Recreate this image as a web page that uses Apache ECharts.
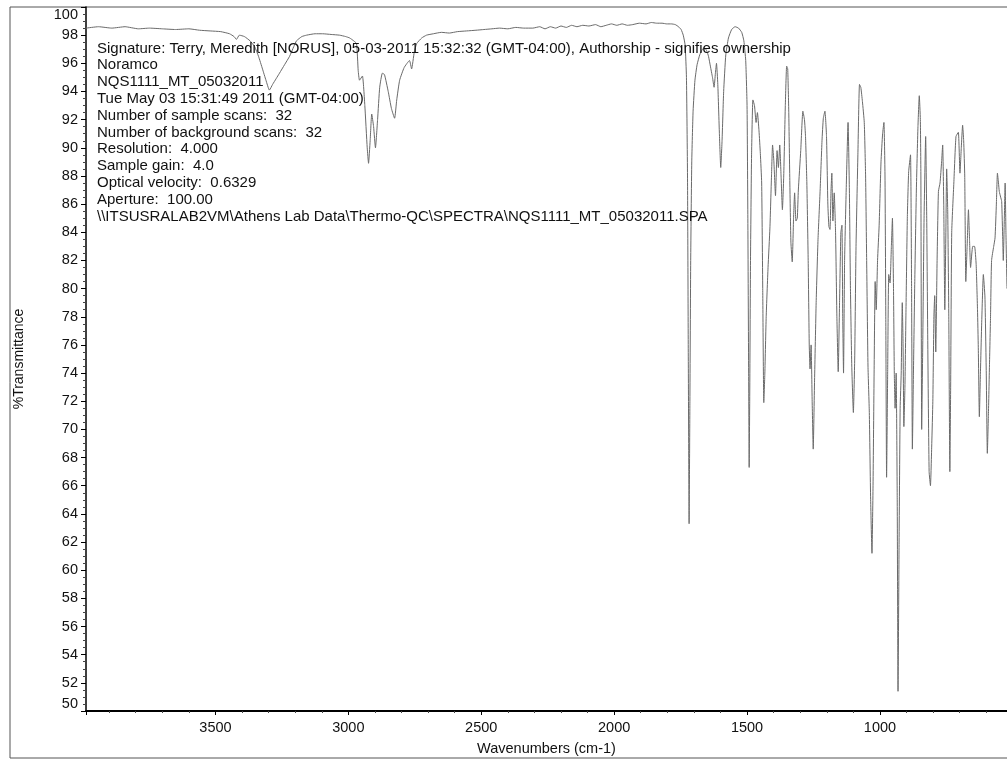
<!DOCTYPE html>
<html>
<head>
<meta charset="utf-8">
<script src="https://cdn.jsdelivr.net/npm/echarts@6/dist/echarts.min.js"></script>
<style>
html,body{margin:0;padding:0;background:#fff;}
#chart{width:1007px;height:763px;}
</style>
</head>
<body>
<div id="chart"></div>
<script>
// Wavenumbers (cm-1), descending
const wavenumbers = [
3987,3940,3890,3840,3790,3748,3700,3650,3600,3560,3520,3480,3447,3430,3421,3410,3391,3370,3353,3338,
3323,3310,3297,3285,3272,3259,3240,3221,3205,3195,3175,3157,3125,3097,3065,3033,3010,2995,2980,2969,
2963,2958,2947,2938,2929,2924,2918,2912,2905,2898,2890,2882,2872,2864,2850,2838,2826,2818,2807,2790,
2770,2762,2752,2743,2724,2706,2680,2650,2620,2590,2555,2520,2490,2460,2431,2400,2370,2340,2306,2280,
2260,2240,2220,2200,2180,2160,2140,2118,2095,2070,2050,2030,2010,1990,1970,1950,1930,1905,1880,1860,
1840,1820,1802,1785,1770,1758,1748,1740,1733,1728,1724,1721,1718,1715,1712,1708,1703,1696,1688,1678,
1668,1660,1652,1645,1638,1630,1624,1619,1615,1610,1604,1599,1594,1588,1580,1570,1558,1545,1532,1520,
1512,1505,1500,1497,1494,1492,1490,1487,1483,1478,1472,1466,1461,1455,1450,1445,1441,1437,1433,1428,
1421,1414,1408,1404,1399,1393,1387,1382,1377,1372,1367,1362,1356,1351,1347,1343,1339,1335,1330,1325,
1321,1316,1311,1307,1298,1290,1284,1280,1275,1270,1266,1263,1259,1255,1251,1246,1240,1233,1225,1218,
1213,1207,1201,1196,1192,1188,1184,1181,1177,1172,1167,1162,1157,1152,1147,1143,1140,1137,1133,1127,
1120,1115,1111,1106,1100,1095,1090,1083,1077,1072,1066,1059,1054,1050,1045,1040,1035,1030,1026,1022,
1018,1014,1009,1003,996,990,985,981,978,975,971,967,962,957,953,949,946,943,939,935,
932,928,924,920,916,913,910,906,902,897,892,885,881,878,874,869,863,857,852,848,
846,843,839,834,828,824,820,815,810,805,801,797,794,790,785,780,774,768,764,760,
756,752,749,745,741,737,734,730,722,714,705,699,694,689,685,681,677,672,667,663,
659,651,644,638,633,630,626,622,617,611,605,600,596,592,588,584,580,572,567,562,
558,554,551,546,542,538,536,532,529,526,522
];
// %Transmittance at each wavenumber
const transmittance = [
98.5,98.6,98.5,98.6,98.45,98.5,98.45,98.4,98.45,98.35,98.3,98.25,98.1,97.9,97.7,98.0,97.9,97.6,97.2,96.5,
95.6,94.8,94.1,94.5,94.9,95.3,95.9,96.5,97.2,97.6,97.9,98.0,98.1,98.1,98.05,98.0,97.9,97.8,97.6,97.4,
95.5,94.8,95.1,93.0,90.0,88.9,90.5,92.4,91.5,90.0,92.0,94.3,95.3,95.2,94.0,92.8,92.1,93.4,94.8,95.7,
96.2,95.6,96.8,97.4,97.8,98.0,98.1,98.2,98.15,98.25,98.3,98.35,98.4,98.45,98.5,98.45,98.55,98.5,98.5,98.6,
98.45,98.6,98.5,98.65,98.55,98.7,98.6,98.7,98.65,98.75,98.6,98.7,98.8,98.7,98.8,98.7,98.75,98.85,98.8,98.9,
98.85,98.85,98.8,98.8,98.75,98.6,98.4,98.0,97.3,95.0,88.0,75.0,63.3,72.0,82.0,89.0,92.6,94.8,95.9,96.6,
97.0,97.1,96.9,96.5,95.8,95.0,94.3,95.3,96.0,94.5,91.0,88.6,90.5,94.0,96.6,97.8,98.4,98.6,98.5,98.2,
97.6,96.2,93.0,85.0,74.0,67.3,72.0,82.0,89.5,93.4,93.0,91.8,92.5,91.2,89.6,87.5,80.0,71.9,74.0,78.0,
81.5,84.3,88.0,90.2,89.0,86.6,89.8,88.6,90.2,88.0,85.6,88.0,93.0,95.8,95.6,92.5,87.5,83.3,81.9,85.0,
86.8,84.8,85.0,87.0,89.8,92.6,92.0,90.8,87.5,82.0,76.0,74.3,76.0,72.0,68.6,73.5,79.0,83.5,87.0,90.5,
92.1,92.6,90.8,86.0,84.4,84.2,87.0,88.2,84.8,86.8,84.0,78.0,74.1,79.0,84.0,84.5,78.0,74.0,82.0,87.0,
91.8,87.0,80.0,74.5,71.2,75.0,83.0,89.5,94.5,94.3,93.3,91.8,88.0,82.0,74.5,71.2,65.0,61.2,66.0,74.0,
80.5,78.5,82.0,84.5,89.0,91.0,91.8,88.0,78.0,66.6,74.0,81.0,80.4,83.0,85.0,80.0,74.0,71.5,74.0,65.0,
51.4,62.0,71.5,74.0,79.0,76.0,70.2,73.0,78.5,85.0,88.3,89.5,80.0,68.6,74.0,80.5,87.0,91.5,93.7,92.0,
88.0,70.0,76.0,85.0,90.8,85.0,76.0,67.0,66.0,69.0,72.0,78.0,79.5,75.5,82.0,86.9,87.5,89.0,90.2,86.0,
78.5,84.0,88.5,85.5,78.0,67.0,73.0,84.0,87.5,90.8,91.1,88.2,90.0,91.6,90.5,88.0,80.5,83.0,85.6,83.5,
81.5,83.0,83.0,81.7,78.5,75.8,70.9,74.0,77.7,81.0,79.4,74.0,68.3,71.0,74.5,78.0,82.0,83.0,83.6,86.0,
88.2,87.5,86.9,86.5,86.2,83.5,82.0,85.0,87.5,84.0,80.0
];
const xTickValues = [3500, 3000, 2500, 2000, 1500, 1000];
const xRange = [522, 3987];
const yRange = [50, 100];
const infoLines = [
  'Signature: Terry, Meredith [NORUS], 05-03-2011 15:32:32 (GMT-04:00), Authorship - signifies ownership',
  'Noramco',
  'NQS1111_MT_05032011',
  'Tue May 03 15:31:49 2011 (GMT-04:00)',
  'Number of sample scans:  32',
  'Number of background scans:  32',
  'Resolution:  4.000',
  'Sample gain:  4.0',
  'Optical velocity:  0.6329',
  'Aperture:  100.00',
  '\\\\ITSUSRALAB2VM\\Athens Lab Data\\Thermo-QC\\SPECTRA\\NQS1111_MT_05032011.SPA'
];

const FONT = '"Liberation Sans", Arial, sans-serif';
const chart = echarts.init(document.getElementById('chart'), null, {renderer: 'canvas'});

const infoGraphics = infoLines.map((t, i) => ({
  type: 'text',
  left: 97,
  top: 41 + i * 16.8,
  z: 10,
  style: { text: t, fill: '#111', font: '15px ' + FONT }
}));

chart.setOption({
  backgroundColor: '#fff',
  animation: false,
  grid: { left: 86, right: 0, top: 7, bottom: 52, containLabel: false },
  xAxis: {
    type: 'value',
    inverse: true,
    min: xRange[0],
    max: xRange[1],
    splitNumber: 7,
    name: 'Wavenumbers (cm-1)',
    nameLocation: 'middle',
    nameGap: 30,
    nameTextStyle: { fontFamily: FONT, fontSize: 14.5, color: '#111' },
    axisLine: { show: true, lineStyle: { color: '#000', width: 2 } },
    axisTick: { show: true, length: 4, lineStyle: { color: '#000' } },
    minorTick: { show: true, splitNumber: 5, length: 2, lineStyle: { color: '#444' } },
    splitLine: { show: false },
    axisLabel: {
      fontFamily: FONT, fontSize: 14.5, color: '#111', margin: 9,
      showMinLabel: false, showMaxLabel: false,
      formatter: v => (xTickValues.indexOf(v) >= 0 ? String(v) : '')
    }
  },
  yAxis: {
    type: 'value',
    min: yRange[0],
    max: yRange[1],
    interval: 2,
    name: '%Transmittance',
    nameLocation: 'middle',
    nameGap: 60,
    nameTextStyle: { fontFamily: FONT, fontSize: 14, color: '#111' },
    axisLine: { show: true, lineStyle: { color: '#000', width: 1.5 } },
    axisTick: { show: true, length: 5, lineStyle: { color: '#000' } },
    minorTick: { show: true, splitNumber: 4, length: 3, lineStyle: { color: '#444' } },
    splitLine: { show: false },
    axisLabel: {
      fontFamily: FONT, fontSize: 14.5, color: '#111', margin: 8,
      verticalAlignMaxLabel: 'top', verticalAlignMinLabel: 'bottom'
    }
  },
  graphic: [
    {
      type: 'rect', z: 0, silent: true,
      shape: { x: 10, y: 7, width: 1010, height: 751 },
      style: { fill: 'none', stroke: '#555', lineWidth: 1 }
    }
  ].concat(infoGraphics),
  series: [{
    type: 'line',
    data: wavenumbers.map((w, i) => [w, transmittance[i]]),
    showSymbol: false,
    smooth: 0.15,
    clip: true,
    lineStyle: { color: '#6a6a6a', width: 1 }
  }]
});
</script>
</body>
</html>
